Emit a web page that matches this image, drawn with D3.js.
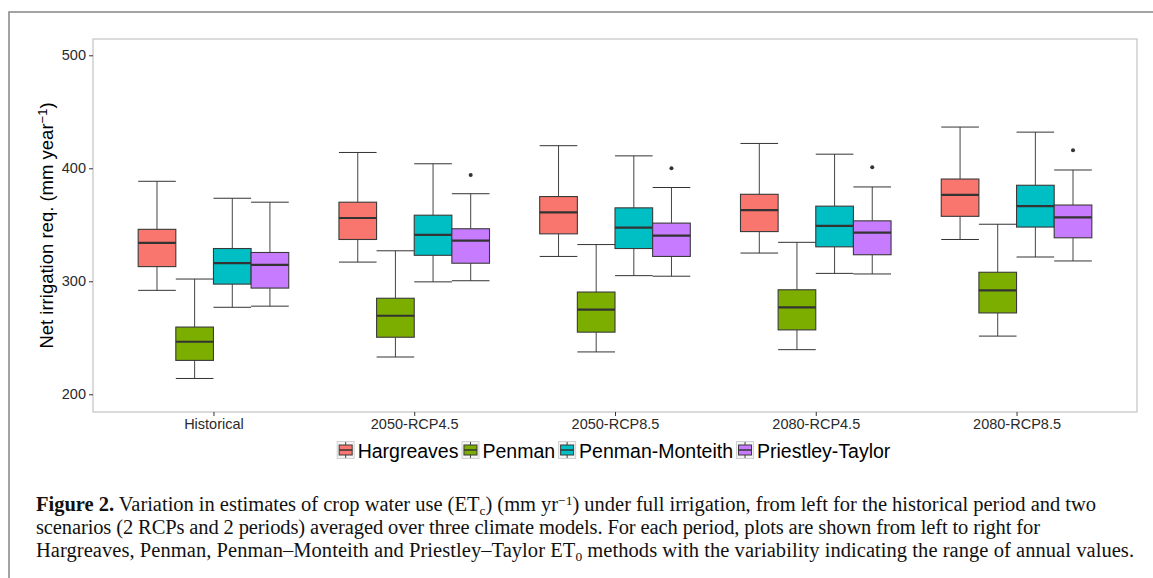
<!DOCTYPE html>
<html>
<head>
<meta charset="utf-8">
<script src="https://cdn.jsdelivr.net/npm/d3@7"></script>
<style>
  body { margin: 0; background: #fff; }
  svg { display: block; }
  .axis text { font-family: "Liberation Sans", Arial, sans-serif; font-size: 14.5px; fill: #2a2a2a; }
  .axis line { stroke: #333; }
  .caption { font-family: "Liberation Serif", "Times New Roman", serif; font-size: 20.5px; fill: #111; }
</style>
</head>
<body>
<svg width="1153" height="578"></svg>
<script>
const periods = ['Historical', '2050-RCP4.5', '2050-RCP8.5', '2080-RCP4.5', '2080-RCP8.5'];
const methods = ['Hargreaves', 'Penman', 'Penman-Monteith', 'Priestley-Taylor'];
const colors = ['#F8766D', '#7CAE00', '#00BFC4', '#C77CFF'];
const yTicks = [200, 300, 400, 500];

// one row per method, one value per period
const whiskerLow = [
  [292, 317, 322, 325, 337],
  [214, 233, 237.5, 239.5, 251.5],
  [277, 299.5, 305, 307, 321.5],
  [278, 300.5, 304.5, 306.5, 318]
];
const q1 = [
  [313, 337, 342, 344, 357.5],
  [230, 250.5, 255, 257, 272],
  [297.5, 323, 329, 330.5, 348],
  [294, 316, 322, 323.5, 338.5]
];
const medians = [
  [334, 356, 361, 363, 376.5],
  [246.5, 269.5, 275, 277, 292],
  [316, 341, 347.5, 349, 366.5],
  [314.5, 336, 340.5, 343, 356.5]
];
const q3 = [
  [346, 370, 375, 377, 390.5],
  [259.5, 285, 290.5, 292.5, 308],
  [329, 358.5, 365, 366.5, 385],
  [325.5, 346.5, 351.5, 353.5, 367.5]
];
const whiskerHigh = [
  [388.5, 414, 420, 422, 436.5],
  [302, 327, 332.5, 334.5, 350.5],
  [373.5, 404, 411, 412.5, 432],
  [370, 377.5, 383, 383.5, 398.5]
];
const outliers = [
  [[], [], [], [], []],
  [[], [], [], [], []],
  [[], [], [], [], []],
  [[], [394], [400], [401], [416]]
];

const panel = { left: 93, right: 1137, top: 39, bottom: 412 };

const svg = d3.select('svg');

// outer figure frame
svg.append('rect')
  .attr('x', 9).attr('y', 12)
  .attr('width', 1300).attr('height', 700)
  .attr('fill', 'none')
  .attr('stroke', '#8c8c8c')
  .attr('stroke-width', 1.6);

const x = d3.scalePoint()
  .domain(periods)
  .range([panel.left, panel.right])
  .padding(0.6);

const dodge = d3.scaleBand()
  .domain(methods)
  .range([-0.375 * x.step(), 0.375 * x.step()]);

const y = d3.scaleLinear()
  .domain([200, 500])
  .range([394.3, 55.3]);

// panel
svg.append('rect')
  .attr('x', panel.left).attr('y', panel.top)
  .attr('width', panel.right - panel.left)
  .attr('height', panel.bottom - panel.top)
  .attr('fill', '#fff')
  .attr('stroke', '#c4c4c4')
  .attr('stroke-width', 1.2);

// axes
const yAxis = svg.append('g')
  .attr('class', 'axis')
  .attr('transform', `translate(${panel.left},0)`)
  .call(d3.axisLeft(y).tickValues(yTicks).tickSize(4).tickPadding(3));
yAxis.select('.domain').remove();

const xAxis = svg.append('g')
  .attr('class', 'axis')
  .attr('transform', `translate(0,${panel.bottom})`)
  .call(d3.axisBottom(x).tickSize(4).tickPadding(3));
xAxis.select('.domain').remove();

// y title
svg.append('text')
  .attr('transform', `translate(53,${(panel.top + panel.bottom) / 2}) rotate(-90)`)
  .attr('text-anchor', 'middle')
  .style('font-family', '"Liberation Sans", Arial, sans-serif')
  .style('font-size', '18.5px')
  .style('fill', '#000')
  .call(t => {
    t.append('tspan').text('Net irrigation req. (mm year');
    t.append('tspan').attr('baseline-shift', '45%').style('font-size', '13px').text('\u22121');
    t.append('tspan').text(')');
  });

// boxes
const boxes = [];
methods.forEach((m, mi) => {
  periods.forEach((p, pi) => {
    boxes.push({
      method: m, mi, period: p,
      lo: whiskerLow[mi][pi], q1: q1[mi][pi], med: medians[mi][pi],
      q3: q3[mi][pi], hi: whiskerHigh[mi][pi], out: outliers[mi][pi]
    });
  });
});

const bw = dodge.bandwidth();
const g = svg.append('g');

const box = g.selectAll('g.box')
  .data(boxes)
  .enter()
  .append('g')
  .attr('class', 'box')
  .attr('transform', d => `translate(${x(d.period) + dodge(d.method)},0)`);

// whiskers with caps
box.append('line')
  .attr('x1', bw / 2).attr('x2', bw / 2)
  .attr('y1', d => y(d.hi)).attr('y2', d => y(d.q3))
  .attr('stroke', '#444').attr('stroke-width', 1);
box.append('line')
  .attr('x1', bw / 2).attr('x2', bw / 2)
  .attr('y1', d => y(d.q1)).attr('y2', d => y(d.lo))
  .attr('stroke', '#444').attr('stroke-width', 1);
box.append('line')
  .attr('x1', 0).attr('x2', bw)
  .attr('y1', d => y(d.hi)).attr('y2', d => y(d.hi))
  .attr('stroke', '#333').attr('stroke-width', 1);
box.append('line')
  .attr('x1', 0).attr('x2', bw)
  .attr('y1', d => y(d.lo)).attr('y2', d => y(d.lo))
  .attr('stroke', '#333').attr('stroke-width', 1);

box.append('rect')
  .attr('x', 0).attr('width', bw)
  .attr('y', d => y(d.q3))
  .attr('height', d => y(d.q1) - y(d.q3))
  .attr('fill', d => colors[d.mi])
  .attr('stroke', '#3a3a3a')
  .attr('stroke-width', 1.1);

box.append('line')
  .attr('x1', 0).attr('x2', bw)
  .attr('y1', d => y(d.med)).attr('y2', d => y(d.med))
  .attr('stroke', '#333').attr('stroke-width', 2.2);

box.selectAll('circle')
  .data(d => d.out)
  .enter()
  .append('circle')
  .attr('cx', bw / 2)
  .attr('cy', v => y(v))
  .attr('r', 2)
  .attr('fill', '#333');

// legend
const legend = svg.append('g');
const keySize = 18;
let lx = 0;
methods.forEach((m, i) => {
  const item = legend.append('g').attr('transform', `translate(${lx},0)`);
  item.append('rect')
    .attr('x', 0.5).attr('y', 0.5)
    .attr('width', keySize - 1).attr('height', keySize - 1)
    .attr('fill', '#f4f4f4').attr('stroke', '#d0d0d0');
  item.append('line')
    .attr('x1', keySize / 2).attr('x2', keySize / 2)
    .attr('y1', 1).attr('y2', keySize - 1)
    .attr('stroke', '#444');
  item.append('rect')
    .attr('x', 2.5).attr('y', 4)
    .attr('width', keySize - 5).attr('height', keySize - 8)
    .attr('fill', colors[i]).attr('stroke', '#3a3a3a').attr('stroke-width', 1);
  item.append('line')
    .attr('x1', 2.5).attr('x2', keySize - 2.5)
    .attr('y1', keySize / 2).attr('y2', keySize / 2)
    .attr('stroke', '#333').attr('stroke-width', 1.5);
  const t = item.append('text')
    .attr('x', keySize + 3)
    .attr('y', 16.5)
    .style('font-family', '"Liberation Sans", Arial, sans-serif')
    .style('font-size', '19.5px')
    .style('fill', '#000')
    .text(m);
  lx += keySize + 3 + t.node().getComputedTextLength() + 3;
});
legend.attr('transform', `translate(${(panel.left + panel.right) / 2 - lx / 2},441)`);

// caption
const cap = svg.append('g').attr('class', 'caption');
const line1 = cap.append('text').attr('x', 36).attr('y', 511)
  .attr('textLength', 1060).attr('lengthAdjust', 'spacing');
line1.append('tspan').style('font-weight', 'bold').text('Figure 2.');
line1.append('tspan').text(' Variation in estimates of crop water use (ET');
line1.append('tspan').attr('baseline-shift', '-25%').style('font-size', '13.5px').text('c');
line1.append('tspan').text(') (mm yr');
line1.append('tspan').attr('baseline-shift', '40%').style('font-size', '13.5px').text('\u22121');
line1.append('tspan').text(') under full irrigation, from left for the historical period and two');

cap.append('text').attr('x', 36).attr('y', 534)
  .attr('textLength', 1004).attr('lengthAdjust', 'spacing')
  .text('scenarios (2 RCPs and 2 periods) averaged over three climate models. For each period, plots are shown from left to right for');

const line3 = cap.append('text').attr('x', 36).attr('y', 557)
  .attr('textLength', 1098).attr('lengthAdjust', 'spacing');
line3.append('tspan').text('Hargreaves, Penman, Penman\u2013Monteith and Priestley\u2013Taylor ET');
line3.append('tspan').attr('baseline-shift', '-25%').style('font-size', '13.5px').text('0');
line3.append('tspan').text(' methods with the variability indicating the range of annual values.');
</script>
</body>
</html>
